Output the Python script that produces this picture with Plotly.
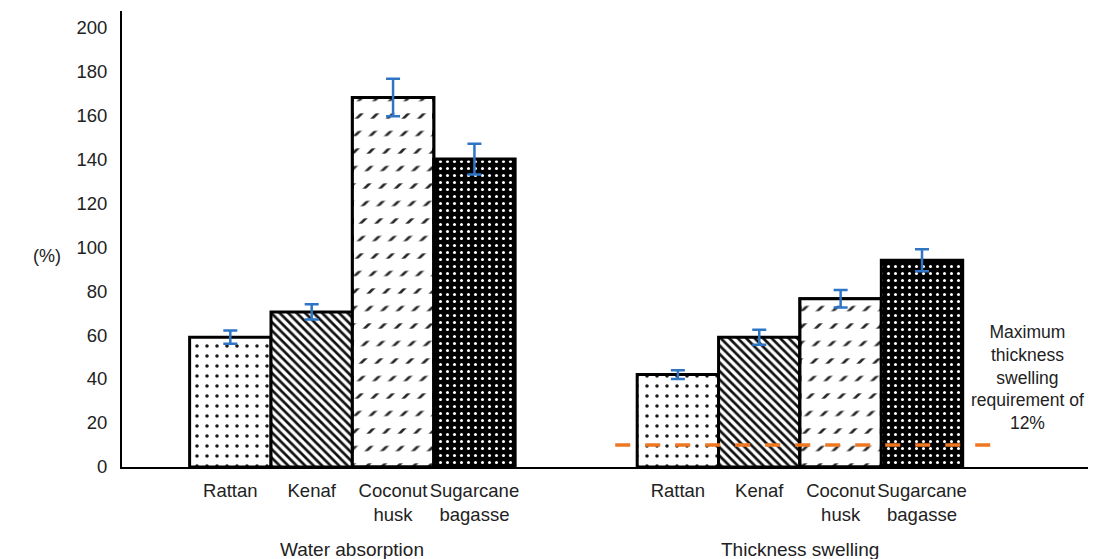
import plotly.graph_objects as go

# ---- data ----
materials = ["Rattan", "Kenaf", "Coconut husk", "Sugarcane bagasse"]
tick_text = ["Rattan", "Kenaf", "Coconut<br>husk", "Sugarcane<br>bagasse"]
groups = ["Water absorption", "Thickness swelling"]
water_absorption = [59, 70.5, 168, 140]
water_absorption_err = [3, 3.5, 8.5, 7]
thickness_swelling = [42, 59, 76.5, 94]
thickness_swelling_err = [2, 3.4, 4, 5]
threshold = 10
threshold_label = "Maximum<br>thickness<br>swelling<br>requirement of<br>12%"
y_ticks = [0, 20, 40, 60, 80, 100, 120, 140, 160, 180, 200]

# ---- layout helpers ----
group_offset = 5.5
n = len(materials)
pos = {g: [i + gi * group_offset for i in range(n)] for gi, g in enumerate(groups)}

FONT = "Liberation Sans, Arial, sans-serif"
TXT = "#222222"
ERR = "#2E75C6"
OUTLINE = dict(color="black", width=3)

patterns = [
    dict(shape=".", size=10, solidity=0.1, fgcolor="#1a1a1a", bgcolor="white", fillmode="replace"),
    dict(shape="\\", size=6, solidity=0.45, fgcolor="#111111", bgcolor="white", fillmode="replace"),
    dict(shape="/", size=11, solidity=0.24, fgcolor="#2a2a2a", bgcolor="white", fillmode="replace"),
    dict(shape=".", size=7, solidity=0.15, fgcolor="white", bgcolor="black", fillmode="replace"),
]
# white horizontal bands that turn the coconut diagonals into rows of short slashes
row_mask = dict(shape="-", size=17.5, solidity=0.7, fgcolor="white",
                bgcolor="rgba(0,0,0,0)", fillmode="replace")

fig = go.Figure()
for i, m in enumerate(materials):
    xs = [pos[groups[0]][i], pos[groups[1]][i]]
    ys = [water_absorption[i], thickness_swelling[i]]
    errs = [water_absorption_err[i], thickness_swelling_err[i]]
    masked = m == "Coconut husk"
    fig.add_trace(go.Bar(
        x=xs, y=ys, width=1, name=m,
        marker=dict(color="white", pattern=patterns[i], line=OUTLINE),
        error_y=None if masked else dict(type="data", array=errs, color=ERR, thickness=2.5, width=7),
        showlegend=False,
    ))
    if masked:
        fig.add_trace(go.Bar(
            x=xs, y=ys, width=1, name=m + " rows",
            marker=dict(color="rgba(0,0,0,0)", pattern=row_mask, line=OUTLINE),
            error_y=dict(type="data", array=errs, color=ERR, thickness=2.5, width=7),
            showlegend=False, hoverinfo="skip",
        ))

# threshold dashed line over the thickness swelling group
ts = pos[groups[1]]
fig.add_shape(type="line", xref="x", yref="y",
              x0=ts[0] - 0.77, x1=ts[-1] + 1.02, y0=threshold, y1=threshold,
              line=dict(color="#EE7722", width=3.5, dash="15px,15px"), layer="above")

fig.add_annotation(x=ts[-1] + 1.3, y=40.5, xref="x", yref="y", text=threshold_label,
                   showarrow=False, font=dict(family=FONT, size=17.5, color=TXT),
                   xanchor="center", yanchor="middle", align="center")

# group titles
for g in groups:
    fig.add_annotation(x=(pos[g][0] + pos[g][-1]) / 2, y=-0.18, xref="x", yref="paper",
                       text=g, showarrow=False, font=dict(family=FONT, size=19, color=TXT),
                       xanchor="center", yanchor="middle")

# y axis title
fig.add_annotation(x=-0.0775, y=96, xref="paper", yref="y", text="(%)", showarrow=False,
                   font=dict(family=FONT, size=18, color=TXT), xanchor="center", yanchor="middle")

# the page body adds an 8px margin, so the figure is sized 8px smaller
fig.update_layout(
    width=1088, height=551,
    margin=dict(l=114, r=4, t=3, b=92),
    plot_bgcolor="white", paper_bgcolor="white",
    font=dict(family=FONT, size=18, color=TXT),
    barmode="overlay",
    showlegend=False,
)
fig.update_xaxes(
    range=[-1.331, 10.589],
    tickvals=pos[groups[0]] + pos[groups[1]],
    ticktext=tick_text + tick_text,
    tickangle=0, automargin=False,
    showgrid=False, zeroline=False,
    showline=True, linecolor="black", linewidth=2,
    ticks="", ticklabelstandoff=6,
    tickfont=dict(family=FONT, size=18.5, color=TXT),
)
fig.update_yaxes(
    range=[0, 207.3],
    tickvals=y_ticks, automargin=False,
    showgrid=False, zeroline=False,
    showline=True, linecolor="black", linewidth=2,
    ticks="", ticklabelstandoff=9,
    tickfont=dict(family=FONT, size=18.5, color=TXT),
)

fig.write_html("out.html")
